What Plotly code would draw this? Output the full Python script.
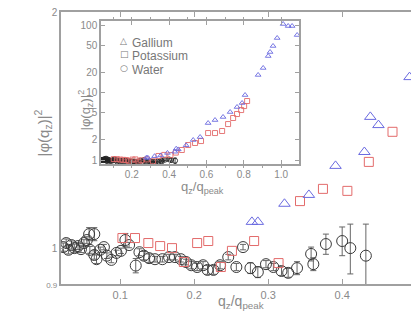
import math
import plotly.graph_objects as go

# ---------------- data ----------------
water_x = [0.023, 0.027, 0.030, 0.034, 0.038, 0.043, 0.047, 0.051, 0.055, 0.058,
           0.059, 0.065, 0.065, 0.068, 0.073, 0.078, 0.082, 0.088, 0.095, 0.101,
           0.107, 0.112, 0.121, 0.126, 0.132, 0.139, 0.147, 0.157, 0.166, 0.174,
           0.182, 0.189, 0.196, 0.204, 0.212, 0.218, 0.226, 0.235, 0.246, 0.257,
           0.266, 0.276, 0.286, 0.297, 0.307, 0.318, 0.327, 0.339, 0.358, 0.361,
           0.378, 0.400, 0.411, 0.432]
water_y = [1.003, 1.015, 0.995, 1.009, 1.000, 1.006, 0.997, 1.015, 1.024, 1.042,
           0.995, 1.042, 0.980, 0.968, 0.995, 1.003, 0.978, 0.966, 0.986, 0.992,
           1.024, 1.009, 0.950, 0.988, 0.978, 0.971, 0.968, 0.968, 0.974, 0.974,
           0.968, 0.960, 0.951, 0.946, 0.951, 0.938, 0.938, 0.951, 0.974, 0.946,
           1.003, 0.943, 0.932, 0.954, 0.946, 0.935, 0.930, 0.943, 0.983, 0.954,
           1.012, 1.021, 1.000, 0.978]
water_err = [0.012, 0.012, 0.012, 0.012, 0.012, 0.010, 0.010, 0.010, 0.010, 0.020,
             0.010, 0.020, 0.012, 0.012, 0.008, 0.008, 0.008, 0.008, 0.008, 0.008,
             0.020, 0.008, 0.020, 0.010, 0.012, 0.012, 0.008, 0.008, 0.008, 0.008,
             0.008, 0.008, 0.010, 0.010, 0.010, 0.012, 0.012, 0.010, 0.008, 0.010,
             0.008, 0.015, 0.015, 0.010, 0.010, 0.012, 0.012, 0.018, 0.020, 0.018,
             0.030, 0.043, 0.073, 0.095]

potassium_x = [0.103, 0.120, 0.138, 0.154, 0.170, 0.186, 0.204, 0.219, 0.236, 0.251,
               0.281, 0.314, 0.343, 0.374, 0.407, 0.436, 0.468, 0.502, 0.539, 0.571,
               0.609, 0.646, 0.684, 0.716, 0.743, 0.764, 0.786, 0.802, 0.818]
potassium_y = [1.030, 1.030, 1.015, 1.006, 1.000, 0.960, 1.015, 1.021, 0.946, 0.992,
               1.021, 0.957, 1.148, 1.190, 1.183, 1.288, 1.407, 1.667, 1.786, 1.91,
               2.51, 2.51, 2.69, 3.41, 4.19, 4.8, 5.5, 6.3, 7.48]

gallium_x = [0.278, 0.286, 0.322, 0.355, 0.391, 0.430, 0.438, 0.449, 0.491, 0.529,
             0.566, 0.609, 0.646, 0.689, 0.727, 0.764, 0.791, 0.807, 0.877, 0.904,
             0.931, 0.941, 0.957, 0.979, 1.011, 1.038, 1.059, 1.086]
gallium_y = [1.08, 1.08, 1.139, 1.169, 1.273, 1.326, 1.47, 1.435, 1.652, 1.98,
             2.19, 3.53, 3.91, 4.34, 5.14, 6.10, 6.99, 9.18, 18.2, 23.1,
             34.7, 39.8, 48.9, 64.2, 103.5, 96.6, 96.6, 71.1]

series_names = ["Gallium", "Potassium", "Water"]
legend_symbols = ["\u25b3", "\u25a1", "\u25cb"]

main_x_ticks = [0.1, 0.2, 0.3, 0.4]
main_y_ticks = [0.9, 1, 2]
inset_x_ticks = [0.2, 0.4, 0.6, 0.8, 1.0]
inset_y_ticks = [1, 2, 5, 10, 20, 50, 100]

# ---------------- styles ----------------
FONT = "Liberation Sans Narrow, Liberation Sans, Arial, sans-serif"
GRAY = "#8a8a8a"
AXIS = "#a0a0a0"
C_WATER = "#3a3a3a"
C_K = "#e36b6b"
C_GA = "#6a6ae0"

W, H = 411, 322
ML, MR, MT, MB = 61, 0, 12, 38


def px_x(px):
    return (px - ML) / (W - ML - MR)


def px_y(py):
    return 1 - (py - MT) / (H - MT - MB)


fig = go.Figure()

# main panel
fig.add_trace(go.Scatter(
    x=water_x, y=water_y, mode="markers", name=series_names[2],
    error_y=dict(type="data", array=water_err, color="#666", thickness=1, width=3),
    marker=dict(symbol="circle-open", size=11, color=C_WATER, line=dict(width=1)),
    xaxis="x", yaxis="y", showlegend=False))
fig.add_trace(go.Scatter(
    x=potassium_x, y=potassium_y, mode="markers", name=series_names[1],
    marker=dict(symbol="square-open", size=9, color=C_K, line=dict(width=1)),
    xaxis="x", yaxis="y", showlegend=False))
fig.add_trace(go.Scatter(
    x=gallium_x, y=gallium_y, mode="markers", name=series_names[0],
    marker=dict(symbol="triangle-up-open", size=10, color=C_GA, line=dict(width=1)),
    xaxis="x", yaxis="y", showlegend=False))

# inset panel
fig.add_trace(go.Scatter(
    x=water_x, y=water_y, mode="markers", name=series_names[2],
    error_y=dict(type="data", array=water_err, color="#222", thickness=0.8, width=1.5),
    marker=dict(symbol="circle-open", size=5, color="#222", line=dict(width=0.9)),
    xaxis="x2", yaxis="y2", showlegend=False))
fig.add_trace(go.Scatter(
    x=potassium_x, y=potassium_y, mode="markers", name=series_names[1],
    marker=dict(symbol="square-open", size=5, color=C_K, line=dict(width=0.9)),
    xaxis="x2", yaxis="y2", showlegend=False))
fig.add_trace(go.Scatter(
    x=gallium_x, y=gallium_y, mode="markers", name=series_names[0],
    marker=dict(symbol="triangle-up-open", size=5, color=C_GA, line=dict(width=0.9)),
    xaxis="x2", yaxis="y2", showlegend=False))

axis_common = dict(showline=True, linecolor=AXIS, linewidth=1.5, ticks="inside",
                   tickcolor=AXIS, showgrid=False, zeroline=False,
                   tickfont=dict(family=FONT, size=11, color=GRAY))

fig.update_layout(
    width=W, height=H,
    margin=dict(l=ML, r=MR, t=MT, b=MB),
    paper_bgcolor="white", plot_bgcolor="white",
    font=dict(family=FONT, color=GRAY),
    xaxis=dict(axis_common, domain=[0, 1], range=[0.02, 0.493], tickvals=main_x_ticks,
               ticktext=[f"{v:.1f}" for v in main_x_ticks], ticklen=5, mirror="ticks",
               anchor="y"),
    yaxis=dict(axis_common, domain=[0, 1], type="log",
               range=[math.log10(0.9), math.log10(2.0)], tickvals=main_y_ticks,
               ticktext=["<span style='font-size:8px'>0.9</span>", "1", "2"],
               ticklen=4, mirror=False, anchor="x",
               tickfont=dict(family=FONT, size=10, color=GRAY)),
    xaxis2=dict(axis_common, domain=[px_x(101), px_x(299)], range=[0.035, 1.096],
                tickvals=inset_x_ticks, ticktext=[f"{v:.1f}" for v in inset_x_ticks],
                ticklen=4, mirror="ticks", anchor="y2",
                minor=dict(dtick=0.1, ticklen=2, tickcolor=AXIS),
                tickfont=dict(family=FONT, size=10, color=GRAY)),
    yaxis2=dict(axis_common, domain=[px_y(164), px_y(21)], type="log",
                range=[math.log10(0.873), math.log10(114.6)], tickvals=inset_y_ticks,
                ticktext=[str(v) for v in inset_y_ticks], ticklen=4, mirror="ticks",
                anchor="x2", tickfont=dict(family=FONT, size=10, color=GRAY)),
)

ann = []
ann.append(dict(x=px_x(30), y=px_y(133), xref="paper", yref="paper",
                text="|\u03c6(q<sub>z</sub>)|<sup>2</sup>", textangle=-90, showarrow=False,
                font=dict(family=FONT, size=15, color=GRAY)))
ann.append(dict(x=px_x(241), y=px_y(313), xref="paper", yref="paper",
                text="q<sub>z</sub>/q<sub>peak</sub>", showarrow=False,
                font=dict(family=FONT, size=14, color=GRAY)))
ann.append(dict(x=px_x(74), y=px_y(88), xref="paper", yref="paper",
                text="|\u03c6(q<sub>z</sub>)|<sup>2</sup>", textangle=-90, showarrow=False,
                font=dict(family=FONT, size=13, color=GRAY)))
ann.append(dict(x=px_x(202), y=px_y(187), xref="paper", yref="paper",
                text="q<sub>z</sub>/q<sub>peak</sub>", showarrow=False,
                font=dict(family=FONT, size=13, color=GRAY)))
for i, (sym, name) in enumerate(zip(legend_symbols, series_names)):
    yy = px_y(34 + 13.5 * i)
    ann.append(dict(x=px_x(118), y=yy, xref="paper", yref="paper", text=sym,
                    showarrow=False, font=dict(family="DejaVu Sans", size=9, color="#777")))
    ann.append(dict(x=px_x(130), y=yy, xref="paper", yref="paper", text=name,
                    xanchor="left", showarrow=False,
                    font=dict(family=FONT, size=12, color="#777")))
fig.update_layout(annotations=ann)

fig.write_html("out.html", config={"displayModeBar": False},
               post_script="document.body.style.margin='0';"
                           "document.body.style.overflow='hidden';")
